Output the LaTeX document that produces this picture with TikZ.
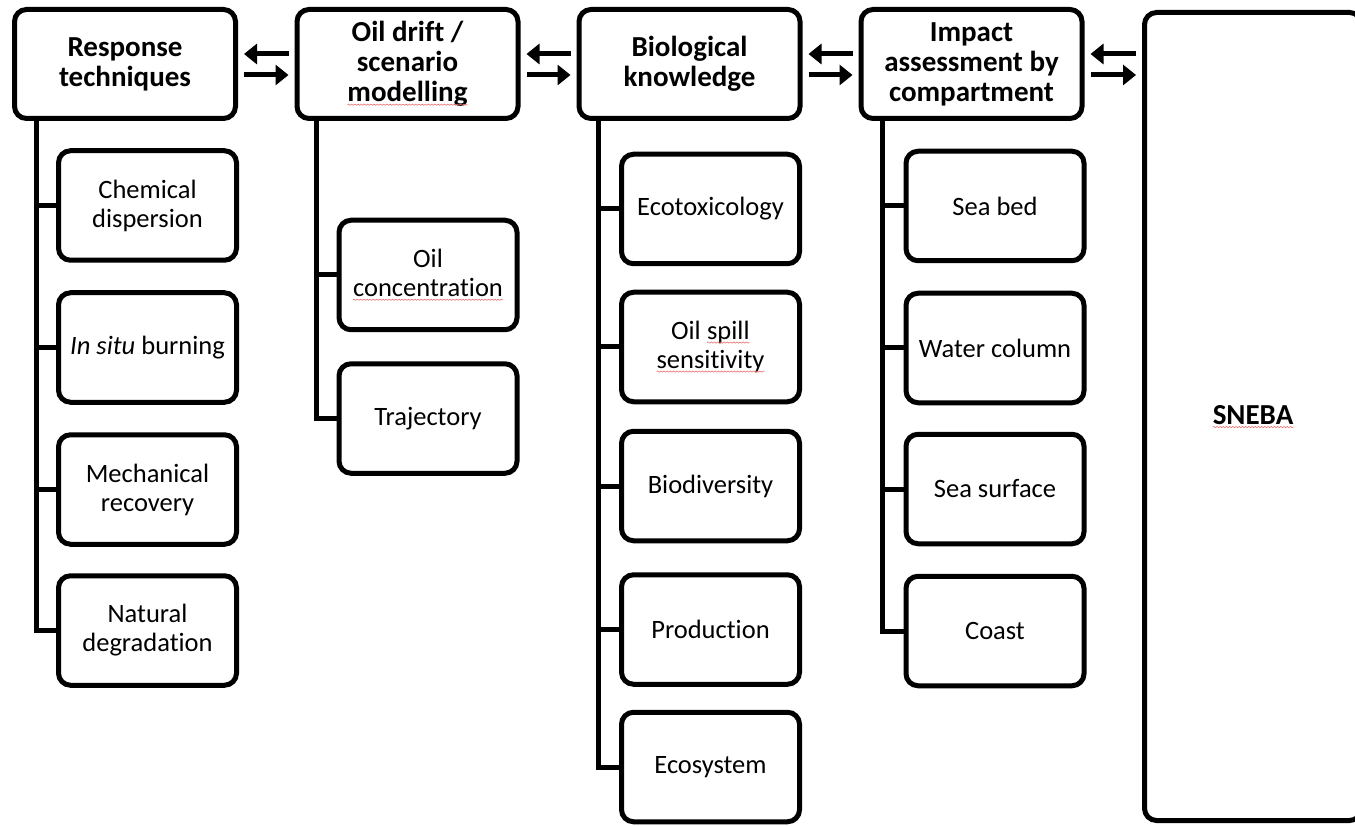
\documentclass[tikz,border=0pt]{standalone}
\usepackage{fontspec}
\setmainfont{Carlito}[Ligatures=NoCommon]
\usetikzlibrary{arrows.meta,decorations.pathmorphing}
\tikzset{spell/.style={draw={rgb,255:red,235;green,110;blue,110}, line width=0.6pt, sharp corners, decorate,
  decoration={snake, amplitude=0.6pt, segment length=3.2pt}}}
\newcommand\sq[1]{\tikz[baseline=(W.base)]{\node[shape=rectangle,draw=none,fill=none,inner sep=0pt,outer sep=0pt,minimum width=0pt,minimum height=0pt,sharp corners,line width=0.4pt](W){#1};\draw[spell]([yshift=-3pt]W.base west) -- ([yshift=-3pt]W.base east);}}
\begin{document}
\begin{tikzpicture}[x=1pt,y=-1pt,
  box/.style={draw, fill=white, line width=5pt, rounded corners=12pt, align=center, inner sep=2pt},
  head/.style={box, minimum width=221pt, minimum height=109pt, font=\bfseries\fontsize{29}{30}\selectfont},
  leaf/.style={box, minimum width=178pt, minimum height=109.5pt, font=\fontsize{26.5}{29}\selectfont},
  tree/.style={line width=5pt},
  arr/.style={line width=5pt, -{Triangle[length=13pt,width=20pt]}, shorten <=6pt, shorten >=6pt}
]
\useasboundingbox (0,0) rectangle (1355,826);
\clip (0,0) rectangle (1355,826);

% headers
\node[head] (h1) at (125,64) {Response\\techniques};
\node[head] (h2) at (407.5,64) {Oil drift /\\scenario\\\sq{modelling}};
\node[head] (h3) at (689.5,64) {Biological\\knowledge};
\node[head] (h4) at (971.5,64) {Impact\\assessment by\\compartment};
\node[box, minimum width=217pt, minimum height=808pt, font=\bfseries\fontsize{29}{30}\selectfont] (s) at (1253,416.5) {\sq{SNEBA}};

% column x positions
\coordinate (v1) at (36,0);
\coordinate (v2) at (316,0);
\coordinate (v3) at (598,0);
\coordinate (v4) at (882,0);

% column 1
\node[leaf] (c11) at (147.5,205.5) {Chemical\\dispersion};
\node[leaf] (c12) at (147.5,347.5) {\textit{In situ} burning};
\node[leaf] (c13) at (147.5,489.5) {Mechanical\\recovery};
\node[leaf] (c14) at (147.5,630.5) {Natural\\degradation};

% column 2
\node[leaf] (c21) at (428,275) {Oil\\\sq{concentration}};
\node[leaf] (c22) at (428,418.5) {Trajectory};

% column 3
\node[leaf] (c31) at (710.5,209) {Ecotoxicology};
\node[leaf] (c32) at (710.5,347) {Oil \sq{spill}\\\sq{sensitivity}};
\node[leaf] (c33) at (710.5,486) {Biodiversity};
\node[leaf] (c34) at (710.5,629.5) {Production};
\node[leaf] (c35) at (710.5,767) {Ecosystem};

% column 4
\node[leaf] (c41) at (995,206) {Sea bed};
\node[leaf] (c42) at (995,348) {Water column};
\node[leaf] (c43) at (995,489) {Sea surface};
\node[leaf] (c44) at (995,631) {Coast};

% tree connectors
\draw[tree] (h1.south -| v1) |- (c14.west);
\foreach \c in {c11,c12,c13} \draw[tree] (v1 |- \c.west) -- (\c.west);
\draw[tree] (h2.south -| v2) |- (c22.west);
\draw[tree] (v2 |- c21.west) -- (c21.west);
\draw[tree] (h3.south -| v3) |- (c35.west);
\foreach \c in {c31,c32,c33,c34} \draw[tree] (v3 |- \c.west) -- (\c.west);
\draw[tree] (h4.south -| v4) |- (c44.west);
\foreach \c in {c41,c42,c43} \draw[tree] (v4 |- \c.west) -- (\c.west);

% arrows between headers
\draw[arr] ([yshift=10pt]h2.west) -- ([yshift=10pt]h1.east);
\draw[arr] ([yshift=-11pt]h1.east) -- ([yshift=-11pt]h2.west);
\draw[arr] ([yshift=10pt]h3.west) -- ([yshift=10pt]h2.east);
\draw[arr] ([yshift=-11pt]h2.east) -- ([yshift=-11pt]h3.west);
\draw[arr] ([yshift=10pt]h4.west) -- ([yshift=10pt]h3.east);
\draw[arr] ([yshift=-11pt]h3.east) -- ([yshift=-11pt]h4.west);
\draw[arr] ([yshift=10pt]s.west |- h4.east) -- ([yshift=10pt]h4.east);
\draw[arr] ([yshift=-11pt]h4.east) -- ([yshift=-11pt]s.west |- h4.east);
\end{tikzpicture}
\end{document}
